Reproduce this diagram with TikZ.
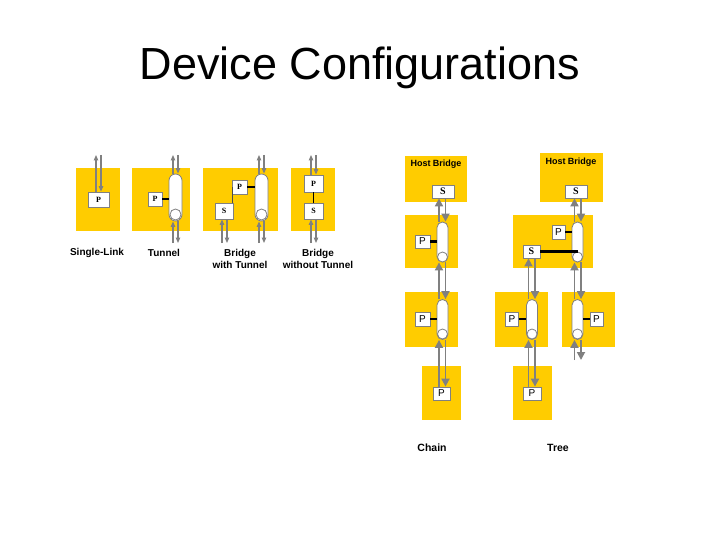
\documentclass[tikz,border=0pt]{standalone}
\usepackage{fontspec}
\setmainfont{Liberation Sans}
\newfontfamily\serifp{Liberation Serif}
\usetikzlibrary{arrows.meta}
\definecolor{yel}{HTML}{FFCC00}
\definecolor{gr}{HTML}{808080}
\begin{document}
\begin{tikzpicture}[x=1pt,y=-1pt,
 panel/.style={fill=yel,draw=none},
 bx/.style={draw=gr,fill=white,line width=0.8,inner sep=0,font=\serifp\bfseries\fontsize{8}{8}\selectfont},
 bx2/.style={draw=gr,fill=white,line width=0.8,inner sep=0,font=\fontsize{10}{10}\selectfont},
 caps/.style={draw=gr,fill=white,line width=0.8,minimum width=13,minimum height=47,rounded corners=6.5,inner sep=0},
 caps2/.style={draw=gr,fill=white,line width=0.8,minimum width=11,minimum height=40,rounded corners=5.5,inner sep=0},
 dot/.style={circle,draw=gr,fill=white,line width=0.8,inner sep=0},
 ar/.style={draw=gr,line width=1.1,-{Triangle[width=4.5,length=5.5]}},
 ar2/.style={draw=gr,line width=1.8,-{Triangle[width=8,length=8]}},
 lk/.style={draw=black,line width=1.2},
 lk2/.style={draw=black,line width=2.4},
 lbl/.style={font=\bfseries\fontsize{10}{12}\selectfont,align=center}]
\useasboundingbox (0,0) rectangle (720,540);
\node (title) at (360,68) {\fontsize{45}{45}\selectfont Device Configurations};
% ---- Single-Link
\fill[panel] (76,168) rectangle (120,231);
\node[bx,minimum width=21,minimum height=15] (p1) at (98.5,199.5) {P};
\coordinate (t1a) at (96,155); \coordinate (t1b) at (101,155);
\draw[ar] (p1.north-|t1a) -- (t1a);
\draw[ar] (t1b) -- (p1.north-|t1b);
\node[lbl] (l1) at (97,253) {Single-Link};
% ---- Tunnel
\fill[panel] (132,168) rectangle (190,231);
\node[bx,minimum width=14,minimum height=14] (p2) at (155,199) {P};
\node[caps] (c2) at (175.5,197.5) {};
\node[dot,minimum size=11] (d2) at (175.5,214.5) {};
\draw[lk] (p2.east) -- (c2.west|-p2.east);
\coordinate (t2a) at (173,155); \coordinate (t2b) at (178,155);
\coordinate (b2a) at (173,243); \coordinate (b2b) at (178,243);
\draw[ar] (c2.north-|t2a) -- (t2a);
\draw[ar] (t2b) -- (c2.north-|t2b);
\draw[ar] (b2a) -- (c2.south-|b2a);
\draw[ar] (c2.south-|b2b) -- (b2b);
\node[lbl] (l2) at (164,253) {Tunnel};
% ---- Bridge with tunnel
\fill[panel] (203,168) rectangle (278,231);
\node[bx,minimum width=15,minimum height=14] (p3) at (239.5,187) {P};
\node[bx,minimum width=18,minimum height=16] (s3) at (224,211) {S};
\node[caps] (c3) at (261.5,197.5) {};
\node[dot,minimum size=11] (d3) at (261.5,214.5) {};
\draw[lk] (p3.east) -- (c3.west|-p3.east);
\draw[draw=black!70,line width=0.8] (s3.north-|232,0) -- (232,187) -- (p3.west);
\coordinate (t3a) at (259,155); \coordinate (t3b) at (264,155);
\coordinate (b3a) at (259,243); \coordinate (b3b) at (264,243);
\coordinate (s3a) at (222,243); \coordinate (s3b) at (227,243);
\draw[ar] (c3.north-|t3a) -- (t3a);
\draw[ar] (t3b) -- (c3.north-|t3b);
\draw[ar] (b3a) -- (c3.south-|b3a);
\draw[ar] (c3.south-|b3b) -- (b3b);
\draw[ar] (s3a) -- (s3.south-|s3a);
\draw[ar] (s3.south-|s3b) -- (s3b);
\node[lbl] (l3) at (240,259) {Bridge\\with Tunnel};
% ---- Bridge without tunnel
\fill[panel] (291,168) rectangle (335,231);
\node[bx,minimum width=19,minimum height=17] (p4) at (313.5,183.5) {P};
\node[bx,minimum width=19,minimum height=16] (s4) at (313.5,211) {S};
\draw[lk] (p4.south) -- (s4.north);
\coordinate (t4a) at (311,155); \coordinate (t4b) at (316,155);
\coordinate (b4a) at (311,243); \coordinate (b4b) at (316,243);
\draw[ar] (p4.north-|t4a) -- (t4a);
\draw[ar] (t4b) -- (p4.north-|t4b);
\draw[ar] (b4a) -- (s4.south-|b4a);
\draw[ar] (s4.south-|b4b) -- (b4b);
\node[lbl] (l4) at (318,259) {Bridge\\without Tunnel};
% ==== Chain
\fill[panel] (405,156) rectangle (467,202);
\node[font=\bfseries\fontsize{9}{9}\selectfont] (hb1) at (436,164) {Host Bridge};
\node[bx2,font=\serifp\bfseries\fontsize{10}{10}\selectfont,minimum width=22,minimum height=13] (cs) at (443,191.5) {S};
\fill[panel] (405,215) rectangle (458,268);
\node[bx2,minimum width=15,minimum height=13] (cp1) at (422.5,241.5) {P};
\node[caps2] (cc1) at (442.5,242) {};
\node[dot,minimum size=10] (cd1) at (442.5,257) {};
\draw[lk2] (cp1.east) -- (cc1.west|-cp1.east);
\fill[panel] (405,292) rectangle (458,347);
\node[bx2,minimum width=15,minimum height=14] (cp2) at (422.5,319) {P};
\node[caps2] (cc2) at (442.5,319.5) {};
\node[dot,minimum size=10] (cd2) at (442.5,334) {};
\draw[lk2] (cp2.east) -- (cc2.west|-cp2.east);
\fill[panel] (422,366) rectangle (461,420);
\node[bx2,minimum width=17,minimum height=13] (cp3) at (441.5,393.5) {P};
\coordinate (ca) at (439,0); \coordinate (cb) at (445.5,0);
\draw[ar2] (cc1.north-|ca) -- (cs.south-|ca);
\draw[ar2] (cs.south-|cb) -- (cc1.north-|cb);
\draw[ar2] (cc2.north-|ca) -- (cc1.south-|ca);
\draw[ar2] (cc1.south-|cb) -- (cc2.north-|cb);
\draw[ar2] (cp3.north-|ca) -- (cc2.south-|ca);
\draw[ar2] (cc2.south-|cb) -- (cp3.north-|cb);
\node[lbl,font=\bfseries\fontsize{10.5}{12}\selectfont] (lc) at (432,448) {Chain};
% ==== Tree
\fill[panel] (540,153) rectangle (603,202);
\node[font=\bfseries\fontsize{9}{9}\selectfont] (hb2) at (571,162) {Host Bridge};
\node[bx2,font=\serifp\bfseries\fontsize{10}{10}\selectfont,minimum width=22,minimum height=13] (ts) at (576,191.5) {S};
\fill[panel] (513,215) rectangle (593,268);
\node[bx2,minimum width=13,minimum height=14] (tp1) at (558.5,232) {P};
\node[bx2,font=\serifp\bfseries\fontsize{10}{10}\selectfont,minimum width=17,minimum height=13] (ts2) at (531.5,251.5) {S};
\node[caps2] (tc1) at (577.5,242) {};
\node[dot,minimum size=10] (td1) at (577.5,257) {};
\draw[lk2] (tp1.east) -- (tc1.west|-tp1.east);
\draw[lk2] (ts2.east) -- (tc1.center|-ts2.east);
\fill[panel] (495,292) rectangle (548,347);
\node[bx2,minimum width=13,minimum height=14] (tp2) at (512,319) {P};
\node[caps2] (tc2) at (532,319.5) {};
\node[dot,minimum size=10] (td2) at (532,334) {};
\draw[lk2] (tp2.east) -- (tc2.west|-tp2.east);
\fill[panel] (562,292) rectangle (615,347);
\node[bx2,minimum width=13,minimum height=14] (tp3) at (596.5,319) {P};
\node[caps2] (tc3) at (577.5,319.5) {};
\node[dot,minimum size=10] (td3) at (577.5,334) {};
\draw[lk2] (tp3.west) -- (tc3.east|-tp3.west);
\fill[panel] (513,366) rectangle (552,420);
\node[bx2,minimum width=18,minimum height=13] (tp4) at (532,393.5) {P};
\coordinate (ta) at (574.5,0); \coordinate (tb) at (581,0);
\coordinate (tla) at (528.5,0); \coordinate (tlb) at (535,0);
\draw[ar2] (tc1.north-|ta) -- (ts.south-|ta);
\draw[ar2] (ts.south-|tb) -- (tc1.north-|tb);
\draw[ar2] (tc3.north-|ta) -- (tc1.south-|ta);
\draw[ar2] (tc1.south-|tb) -- (tc3.north-|tb);
\draw[ar2] (tc2.north-|tla) -- (ts2.south-|tla);
\draw[ar2] (ts2.south-|tlb) -- (tc2.north-|tlb);
\draw[ar2] (tp4.north-|tla) -- (tc2.south-|tla);
\draw[ar2] (tc2.south-|tlb) -- (tp4.north-|tlb);
\coordinate (e1) at (574.5,360); \coordinate (e2) at (581,360);
\draw[ar2] (e1) -- (tc3.south-|ta);
\draw[ar2] (tc3.south-|tb) -- (e2);
\node[lbl,font=\bfseries\fontsize{10.5}{12}\selectfont] (lt) at (558,448) {Tree};
\end{tikzpicture}
\end{document}
